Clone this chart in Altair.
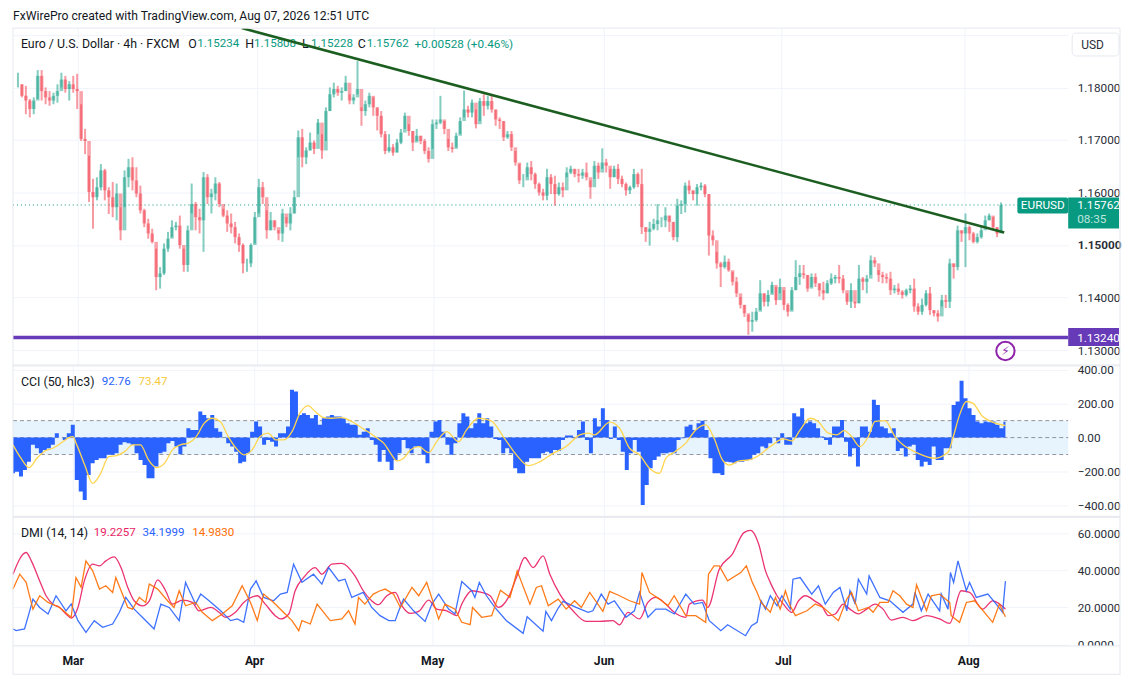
import altair as alt
import pandas as pd

# ---- candles, in pips (1/10000 of a dollar), sampled about every third 4h bar
high = [11828,11806,11803,11778,11781,11833,11833,11800,11793,11790,11806,11828,11822,11812,11822,11826,11768,11721,11670,11626,11629,11654,11645,11610,11620,11617,11572,11642,11664,11667,11648,11613,11569,11550,11531,11493,11458,11503,11525,11547,11544,11556,11493,11537,11617,11582,11569,11639,11635,11607,11629,11620,11569,11566,11560,11544,11522,11503,11474,11503,11563,11626,11620,11566,11563,11547,11528,11569,11553,11572,11604,11718,11721,11686,11714,11699,11740,11711,11762,11800,11809,11803,11800,11822,11787,11787,11850,11762,11775,11790,11781,11762,11755,
        11717,11711,11692,11702,11721,11752,11730,11717,11721,11708,11702,11686,11739,11739,11784,11736,11702,11695,11714,11743,11794,11765,11777,11758,11780,11787,11784,11784,11758,11743,11736,11717,11717,11679,11654,11635,11657,11660,11638,11619,11607,11645,11635,11632,11619,11619,11648,11651,11645,11645,11645,11657,11623,11660,11657,11684,11664,11645,11651,11654,11632,11619,11613,11645,11638,11645,11534,11544,11550,11578,11553,11572,11556,11544,11588,11585,11619,11623,11604,11616,11619,11616,11597,11528,11487,11468,11480,11474,11449,11439,11401,11386,11367,
        11373,11380,11433,11408,11414,11430,11420,11436,11414,11389,11420,11471,11462,11462,11443,11446,11446,11427,11430,11433,11446,11443,11462,11443,11408,11427,11392,11462,11439,11443,11480,11477,11452,11449,11446,11449,11424,11427,11414,11417,11424,11436,11389,11398,11414,11420,11376,11376,11405,11405,11474,11465,11537,11528,11560,11537,11525,11522,11534,11556,11560,11553,11534,11581]
low = [11800,11781,11749,11743,11749,11778,11775,11768,11765,11768,11771,11800,11790,11775,11790,11759,11698,11673,11582,11531,11585,11604,11585,11559,11553,11547,11509,11572,11610,11604,11591,11560,11534,11512,11503,11414,11417,11443,11487,11515,11528,11493,11449,11449,11560,11528,11522,11487,11578,11560,11585,11572,11553,11525,11522,11503,11487,11446,11449,11458,11503,11560,11578,11512,11528,11528,11509,11506,11534,11528,11560,11667,11648,11654,11680,11673,11711,11664,11698,11755,11781,11784,11775,11793,11768,11768,11787,11727,11746,11762,11746,11718,11705,
       11673,11676,11670,11676,11692,11721,11708,11679,11698,11692,11673,11657,11683,11721,11730,11711,11679,11676,11686,11711,11743,11743,11743,11722,11736,11746,11758,11752,11727,11721,11698,11702,11679,11651,11616,11610,11629,11623,11607,11594,11585,11585,11597,11575,11594,11591,11629,11635,11629,11619,11626,11623,11588,11626,11626,11645,11638,11607,11629,11616,11610,11594,11597,11607,11610,11521,11506,11499,11528,11528,11534,11534,11525,11509,11506,11559,11562,11597,11585,11575,11604,11591,11480,11499,11455,11420,11455,11449,11423,11401,11379,11363,11329,
       11335,11354,11376,11383,11383,11408,11386,11408,11376,11364,11376,11414,11424,11436,11411,11420,11420,11402,11395,11408,11424,11427,11427,11408,11386,11380,11380,11389,11414,11408,11443,11458,11430,11427,11427,11405,11408,11405,11398,11402,11408,11373,11367,11367,11383,11367,11364,11354,11383,11380,11380,11436,11452,11506,11458,11509,11503,11503,11512,11534,11547,11528,11515,11523]
close = [11806,11784,11775,11759,11775,11822,11793,11781,11775,11784,11793,11815,11797,11806,11797,11793,11702,11698,11601,11591,11610,11642,11604,11591,11572,11598,11528,11629,11648,11623,11598,11566,11541,11522,11506,11439,11446,11493,11512,11534,11537,11500,11462,11528,11578,11553,11547,11629,11591,11598,11617,11578,11556,11541,11534,11515,11500,11465,11465,11500,11553,11610,11591,11528,11547,11534,11522,11560,11541,11560,11591,11705,11667,11680,11695,11683,11733,11680,11755,11787,11797,11790,11793,11809,11775,11781,11797,11755,11768,11784,11762,11746,11711,
         11679,11686,11676,11695,11714,11746,11717,11695,11708,11698,11679,11664,11730,11733,11739,11721,11686,11683,11708,11736,11758,11752,11771,11730,11774,11765,11774,11758,11739,11736,11705,11711,11686,11657,11623,11623,11648,11635,11616,11600,11594,11629,11616,11597,11610,11604,11638,11645,11635,11632,11638,11629,11610,11651,11638,11657,11651,11629,11645,11626,11616,11604,11610,11635,11616,11534,11525,11531,11540,11547,11547,11556,11544,11515,11575,11578,11613,11604,11597,11610,11613,11597,11518,11509,11465,11458,11468,11452,11430,11408,11386,11370,11354,
         11357,11373,11408,11392,11405,11424,11395,11420,11386,11373,11414,11439,11446,11443,11417,11439,11427,11414,11408,11427,11436,11439,11436,11414,11392,11414,11389,11436,11430,11436,11471,11465,11443,11439,11436,11414,11417,11411,11405,11414,11417,11383,11373,11386,11408,11376,11370,11364,11395,11392,11465,11458,11528,11522,11534,11522,11506,11515,11528,11547,11556,11534,11522,11576]

# ---- CCI histogram and its moving average
cci = [-211,-201,-230,-191,-142,-43,-63,-93,-73,-63,-43,26,0,-14,26,75,-250,-319,-368,-221,-152,-132,-122,-122,-102,-102,-93,-43,-28,-33,-43,-93,-132,-162,-240,-240,-171,-93,-83,-33,-20,-53,-99,-53,55,45,45,154,134,114,134,55,35,0,-33,-53,-83,-152,-142,-93,35,95,65,-43,-14,-24,-53,26,26,65,282,272,134,144,134,114,134,75,114,124,134,124,124,114,85,75,75,16,35,55,-14,-43,-142,
       -73,-142,-191,-132,-93,-14,-63,-93,-53,-53,-102,-152,35,95,104,35,-43,-102,-33,85,144,124,55,85,144,85,114,65,-8,-14,-93,-63,-93,-181,-211,-211,-142,-122,-122,-122,-93,-83,-93,-73,-79,-14,12,12,-4,45,95,-14,-93,114,65,173,104,-8,65,-14,-83,-191,-93,-14,-83,-398,-280,-181,-132,-112,-93,-93,-87,-93,-14,-4,65,75,45,85,99,45,-122,-211,-211,-221,-142,-146,-152,-142,-142,-136,-132,
       -102,-93,-53,-63,-33,0,-33,26,-43,-43,144,124,173,85,95,85,55,6,-14,-43,65,65,104,-24,-112,-63,-171,65,65,35,223,193,65,55,26,55,-79,-63,-112,-53,-43,-132,-171,-142,-162,-53,-132,-132,-63,-63,193,213,335,232,173,134,95,85,95,91,95,75,55,93]
ma_bar = [0,2,4,6,8,10,12,14,15,16,18,20,22,24,26,28,30,32,34,36,38,40,42,44,46,48,50,52,54,56,58,60,62,64,66,68,70,72,74,76,78,80,82.5,85,87,89,92,
          93,95,96.3,98,99.7,101.8,104.3,106.3,108.8,111.8,113.8,116.8,120,123,126.3,129.3,132.2,135.5,138.8,142.2,144.3,145.9,149.7,152.2,154.7,157.2,159.7,162.2,163.8,165.9,168.8,171.3,173.8,175.9,178,179.7,182.2,184.7,
          186.7,190,193.3,195.4,197.5,200,202,204.6,206.7,208.5,210.4,212.5,214.6,216.3,218.8,221.3,223.3,225.4,227.1,231.3,234.6,235.8,237.5,239.2,240.8,243.3,245.8,249]
ma_val = [-43,-122,-177,-122,-79,-63,-33,0,6,-43,-162,-270,-211,-112,-106,-83,-43,-43,-132,-177,-152,-73,-43,-33,6,85,114,95,6,-63,-102,-73,6,26,-14,-14,35,144,189,150,118,114,118,95,65,35,-14,
          -33,-102,-138,-122,-73,-53,-89,-24,35,-24,45,114,99,6,-102,-165,-142,-93,-53,16,26,16,91,55,-63,-102,-181,-211,-122,-87,-33,45,75,-4,-132,-162,-138,-132,
          -112,-53,-8,-20,45,114,95,26,16,41,6,-53,6,95,100,6,-43,-73,-93,-122,-87,-4,134,213,203,124,91,71]

# ---- DMI lines
pink_bar = [0,3.3,4.6,6.7,8.3,10,11.7,13.3,14.6,16.3,17.9,20,21.7,23.3,25.4,27.1,28.8,30.4,32.5,34.2,36.3,38.3,40,42.5,45,46.7,49.6,51.7,53.3,55.8,57.9,61.3,63.3,65.8,67.1,69.2,70.8,72.9,75.8,77.5,80,82.5,85.8,87.9,90,91.7,
            93.8,95.9,97.6,99.7,101.8,104.3,106.3,108.8,111.3,112.6,115.1,117.6,119.7,121.8,124.3,126.3,128.4,130.5,133,134.7,137.2,140.5,143.8,147.2,150.5,152.2,154.3,157.2,159.3,161.3,163.8,165.9,168.8,169.7,173,174.3,177.2,180.5,183.4,185.1,
            185.8,187.1,188.8,190,191.7,193.3,195.4,197.1,198.8,201.3,202.9,204.6,206.3,208.3,210,212.1,214.2,216.3,218.3,220.4,223.3,225.8,229.2,232.5,235,237.9,240,243.3,245.8,249]
pink_val = [37.9,49.6,45.1,34.3,26.3,21.8,20.0,16.5,14.3,20.0,34.3,43.3,42.4,45.1,47.2,41.5,30.8,23.6,20.9,23.6,34.9,29.0,21.8,24.0,22.7,18.2,20.0,17.4,14.7,17.4,22.7,26.3,21.8,15.6,13.8,16.5,29.0,36.1,41.5,37.9,43.3,43.7,37.0,29.0,23.6,21.5,
            26.3,28.1,20.9,16.8,17.9,24.0,19.1,18.2,15.6,21.8,29.0,28.1,26.3,20.0,25.4,36.1,46.9,41.5,47.8,37.9,27.2,18.2,12.5,12.5,12.9,10.7,17.4,13.8,22.7,25.4,21.8,17.4,14.7,21.8,24.0,20.0,40.6,48.7,60.3,61.5,
            60.3,54.0,39.7,33.5,26.3,21.8,17.4,23.6,26.3,23.3,20.9,15.6,16.5,21.8,19.1,16.5,19.1,21.8,19.1,13.2,14.7,12.9,15.6,13.8,11.4,29.0,28.1,19.1,23.6,19.2]
blue_bar = [0,0.8,2.9,4.2,5,6.7,8.8,10.8,13.3,14.6,16.3,18.3,20.4,22.5,25,26.7,28.3,30.4,32.9,35.4,37.1,39.2,41.7,43.3,45.8,47.1,49.2,52.1,54.6,56.3,57.9,59.6,61,62.9,65.4,67.1,68.8,70.4,72.5,75.4,77.5,79.2,81.7,83.3,85,87.9,90,92.1,
            94.3,95.9,96.8,98,100.5,103.4,105.1,106.8,109.3,110.9,112.6,115.1,115.9,117,118.8,120.9,123.8,128,129,133,133.7,135.1,136.8,138,141.3,144.3,145.5,147.6,149.3,150.9,153.8,155.9,157.2,159.3,161.3,163.8,165.9,168.8,170.9,173,174.7,177.6,179.3,183.8,185.3,
            186.7,187.7,188.8,190,191.7,192.9,195,195.7,197.5,200.4,202.1,203.8,205.8,207.5,209.2,210,211.3,212.1,214.2,214.8,217.5,220,223.3,225.8,226.3,227.9,229.6,232.5,232.9,234.6,235.2,236,237.1,239.2,240,241.7,244.6,246.7,248.3,249]
blue_val = [8.4,7.5,8.4,18.2,24.5,20.0,16.5,26.3,18.2,21.8,12.9,6.6,12.9,9.3,11.1,17.4,25.4,19.1,13.8,8.4,21.8,20.0,12.9,33.5,21.8,27.2,23.6,18.2,12.9,13.8,12.0,29.9,34.3,25.4,23.6,27.2,28.1,43.3,33.5,37.9,32.6,41.5,34.3,35.2,25.4,28.1,20.0,15.6,
            12.9,12.9,18.2,24.5,18.2,12.5,21.8,27.2,19.1,16.5,34.0,29.0,25.4,33.5,26.3,20.0,12.9,6.1,15.0,7.2,17.9,12.9,19.7,23.3,20.0,17.4,18.2,27.2,21.8,23.6,14.7,18.2,28.1,14.7,19.1,19.1,16.5,27.2,21.8,22.7,12.9,7.5,10.7,4.8,10.2,
            12.0,23.6,19.1,26.3,20.9,26.3,19.1,35.2,36.1,27.2,31.7,21.8,28.1,30.8,18.2,29.0,21.8,35.2,27.2,37.0,25.4,23.6,17.4,21.8,28.1,18.2,27.2,18.2,27.2,19.1,38.8,33.5,45.1,29.0,33.5,25.4,27.2,21.8,17.4,34.2]
orange_bar = [0,1.7,3.3,5,6.7,8.8,11.7,14.6,15.8,17.1,18.3,20,21.7,23.3,25,25.8,28.8,30,31.7,33.3,34.2,36.3,38.8,40.4,41.7,43.3,45.8,47.5,50,52.5,55,57.5,59.6,61.3,62.9,65.4,68.3,70,71.7,72.5,74.6,76.3,79.6,82.5,84.2,85.8,86.7,88.3,90.4,92.1,
              93.4,95.5,97.2,100.1,101.8,103.8,106.8,108.4,110.9,112.6,114.7,115.3,117.6,120.1,122.3,124.7,126.5,129.7,131.3,132.6,134.3,136.8,138.8,140.9,142.6,144.7,148,149.7,152.2,154.7,157.2,157.8,159.7,162.2,164.3,165.9,168.8,171.3,173.8,174.5,175.9,177.2,179.3,182.6,184,185.5,
              186.7,187.7,190,191.3,192.5,193.8,195,196.3,199.2,201.3,203.3,207.1,209.2,210.4,212.1,214.6,215.8,217.5,219.6,220.8,222.5,224.2,225.8,226.7,229.2,230.4,232.5,235,235.4,237.5,239.2,241.3,245.8,247.5,249]
orange_val = [29.9,37.9,33.5,19.1,26.3,22.7,20.0,14.7,36.1,30.8,45.1,39.7,29.9,31.7,28.1,36.1,20.0,19.1,25.4,22.7,32.6,29.9,23.6,20.0,29.0,20.9,22.7,17.4,12.9,16.5,20.9,31.7,22.7,12.9,27.2,22.7,16.5,12.9,7.5,12.9,11.1,21.8,12.9,13.8,18.2,11.1,25.4,21.8,27.2,29.0,
              29.9,27.2,20.0,30.8,26.3,33.5,13.8,21.8,19.1,12.0,10.7,20.0,14.7,15.6,29.3,25.4,39.7,21.8,30.8,31.7,20.9,24.5,19.1,23.6,20.0,28.1,17.9,28.6,26.3,23.6,21.8,38.8,28.1,24.5,20.9,26.3,15.6,15.6,12.0,37.9,42.4,42.4,34.3,38.8,42.4,33.5,
              28.1,22.7,17.4,25.4,19.1,29.0,20.9,15.6,18.2,21.8,20.0,12.9,24.5,28.1,18.2,20.0,17.4,22.7,22.7,29.0,26.3,21.8,20.0,32.2,18.2,26.3,27.2,22.7,15.6,12.0,22.7,23.6,12.0,21.8,15.0]

# ---- axis and annotation values
month_names = ["Mar", "Apr", "May", "Jun", "Jul", "Aug"]
month_bars = [15.1, 60.6, 105.3, 148.3, 193.3, 239.8]
price_ticks = [1.13, 1.14, 1.15, 1.16, 1.17, 1.18, 1.19]
cci_ticks = [-400, -200, 0, 200, 400]
dmi_ticks = [0, 20, 40, 60]
trend_bar = [56.7, 249.8]
trend_price = [1.1913, 1.1524]
last_price = 1.15762
support = 1.1324

FONT = "Roboto"
TXT = "#131722"
GRID = "#f0f3fa"
EDGE = "#e6e8ef"
UP, DOWN = "#089981", "#f23645"
W = 1059
T_W = 1111
DOM = [0, W / 4]


def x_enc(field="bar"):
    return alt.X(f"{field}:Q", scale=alt.Scale(domain=DOM),
                 axis=alt.Axis(values=month_bars, grid=True, gridColor=GRID, labels=False,
                               ticks=False, domain=False, title=None))


def y_axis(ticks, fmt, **kw):
    return alt.Axis(orient="right", values=ticks, format=fmt, grid=True, gridColor=GRID, ticks=False,
                    domain=False, title=None, labelFont=FONT, labelFontSize=11.8, labelColor="#2a2e39",
                    labelPadding=9, labelFlush=False, labelOverlap=False, **kw)


def note(text, x, y, color=TXT, size=12.4, align="left", weight="normal", font=FONT):
    return alt.Chart(pd.DataFrame({"t": [text]})).mark_text(
        align=align, baseline="middle", font=font, fontSize=size, color=color, fontWeight=weight
    ).encode(x=alt.value(x), y=alt.value(y), text="t:N")


def box(x, x2, y, y2, fill, stroke=None, radius=0):
    opts = dict(fill=fill, cornerRadius=radius)
    if stroke:
        opts["stroke"] = stroke
    return alt.Chart(pd.DataFrame({"a": [0]})).mark_rect(**opts).encode(
        x=alt.value(x), x2=alt.value(x2), y=alt.value(y), y2=alt.value(y2))


def rule_h(y, x=0, x2=T_W, color=EDGE, width=1):
    return alt.Chart(pd.DataFrame({"a": [0]})).mark_rule(color=color, strokeWidth=width).encode(
        x=alt.value(x), x2=alt.value(x2), y=alt.value(y))


def rule_v(x, y, y2, color=EDGE):
    return alt.Chart(pd.DataFrame({"a": [0]})).mark_rule(color=color, strokeWidth=1).encode(
        x=alt.value(x), y=alt.value(y), y2=alt.value(y2))


# ---------- price panel
n = min(len(high), len(low), len(close))
opens = [close[0]] + close[:-1]
candles = pd.DataFrame({
    "bar": list(range(n)),
    "high": [v / 10000 for v in high[:n]],
    "low": [v / 10000 for v in low[:n]],
    "open": [v / 10000 for v in opens[:n]],
    "close": [v / 10000 for v in close[:n]],
})
candles["dir"] = ["up" if c >= o else "down" for o, c in zip(candles["open"], candles["close"])]
P_H = 339
p_scale = alt.Scale(domain=[1.12698, 1.19129])
p_axis = y_axis(price_ticks, ".5f",
                labelExpr="datum.value > 1.185 ? '' : datum.label",
                labelFontWeight={"condition": {"test": "abs(datum.value-1.15)<0.0001", "value": "bold"},
                                 "value": "normal"})
cscale = alt.Scale(domain=["up", "down"], range=[UP, DOWN])

wicks = alt.Chart(candles).mark_rule(strokeWidth=2, opacity=0.5).encode(
    x=x_enc(),
    y=alt.Y("low:Q", scale=p_scale, axis=p_axis), y2="high:Q",
    color=alt.Color("dir:N", scale=cscale, legend=None))
bodies = alt.Chart(candles).mark_bar(size=3.6, opacity=0.45).encode(
    x=x_enc(),
    y=alt.Y("open:Q", scale=p_scale, axis=p_axis), y2="close:Q",
    color=alt.Color("dir:N", scale=cscale, legend=None))
last_line = alt.Chart(pd.DataFrame({"p": [last_price]})).mark_rule(
    color=UP, strokeDash=[1, 3], strokeWidth=1).encode(
    y=alt.Y("p:Q", scale=p_scale, axis=p_axis), x=alt.value(0), x2=alt.value(W))
sup_line = alt.Chart(pd.DataFrame({"p": [support]})).mark_rule(
    color="#673ab7", strokeWidth=3.4).encode(
    y=alt.Y("p:Q", scale=p_scale, axis=p_axis), x=alt.value(0), x2=alt.value(W))
trend = alt.Chart(pd.DataFrame({"bar": trend_bar, "p": trend_price})).mark_line(
    color="#1b5e20", strokeWidth=2.6, clip=True).encode(
    x=x_enc(), y=alt.Y("p:Q", scale=p_scale, axis=p_axis))
bolt_ring = alt.Chart(pd.DataFrame({"a": [0]})).mark_point(
    shape="circle", filled=False, stroke="#8e24aa", strokeWidth=2, size=340, opacity=1).encode(
    x=alt.value(996), y=alt.value(324))

price = alt.layer(
    last_line, wicks, bodies, sup_line,
    note("FxWirePro created with TradingView.com, Aug 07, 2026 12:51 UTC", 0, -12, size=12.2),
    note("Euro / U.S. Dollar · 4h · FXCM", 8, 16),
    note("O", 176, 16), note("1.15234", 185, 16, UP, 11.6),
    note("H", 233, 16), note("1.15808", 242, 16, UP, 11.6),
    note("L", 290, 16), note("1.15228", 299, 16, UP, 11.6),
    note("C", 346, 16), note("1.15762", 355, 16, UP, 11.6),
    note("+0.00528 (+0.46%)", 403, 16, UP, 11.8),
    trend,
    rule_h(0), rule_h(P_H - 1), rule_h(P_H), rule_v(0, 0, P_H), rule_v(T_W, 0, P_H),
    box(1063, T_W - 1, 5, 28, "white", EDGE, 4), note("USD", 1072, 16.5, "#2a2e39", 12),
    box(1008, 1059, 170, 186, UP, None, 2), note("EURUSD", 1033.5, 178, "white", 11.8, "center"),
    box(1059, T_W - 1, 170, 201, UP),
    note(f"{last_price:.5f}", 1068, 178, "white", 11.8), note("08:35", 1068, 192, "#bfe6dd", 11.8),
    box(1059, T_W - 1, 301, 319, "#673ab7"), note(f"{support:.5f}", 1068, 310.5, "white", 11.8),
    bolt_ring, note("⚡\ufe0e", 996, 324, "#8e24aa", 12, "center", font="DejaVu Sans"),
).properties(width=W, height=P_H)

# ---------- CCI panel
C_H = 152
c_scale = alt.Scale(domain=[-471, 423])
c_axis = y_axis(cci_ticks, ".2f")
cci_df = pd.DataFrame({"bar": list(range(len(cci))), "v": cci})
ma_df = pd.DataFrame({"bar": ma_bar[:len(ma_val)], "v": ma_val[:len(ma_bar)]})
band = alt.Chart(pd.DataFrame({"a": [100], "b": [-100]})).mark_rect(fill="#e3f2fd", opacity=0.85).encode(
    y=alt.Y("a:Q", scale=c_scale, axis=c_axis), y2="b:Q", x=alt.value(0), x2=alt.value(W))
hlines = alt.Chart(pd.DataFrame({"v": [100, 0, -100]})).mark_rule(
    color="#787b86", strokeDash=[4, 3], strokeWidth=1, opacity=0.8).encode(
    y=alt.Y("v:Q", scale=c_scale, axis=c_axis), x=alt.value(0), x2=alt.value(W))
hist = alt.Chart(cci_df).mark_area(color="#2962ff", interpolate="step", opacity=1).encode(
    x=x_enc(), y=alt.Y("v:Q", scale=c_scale, axis=c_axis), y2=alt.Y2(datum=0))
ma_line = alt.Chart(ma_df).mark_line(color="#ffd54f", strokeWidth=1.3, interpolate="monotone").encode(
    x=x_enc(), y=alt.Y("v:Q", scale=c_scale, axis=c_axis))
cci_panel = alt.layer(
    band, hlines, hist, ma_line,
    note("CCI (50, hlc3)", 8, 16), note("92.76", 89, 16, "#2962ff", 11.6), note("73.47", 126, 16, "#f6c93c", 11.6),
    rule_h(C_H - 1), rule_h(C_H), rule_v(0, 0, C_H), rule_v(T_W, 0, C_H),
).properties(width=W, height=C_H)

# ---------- DMI panel
D_H = 129
d_scale = alt.Scale(domain=[-0.7, 68.5])
d_axis = y_axis(dmi_ticks, ".4f")


def dmi_line(bars, vals, color, smooth=False):
    m = min(len(bars), len(vals))
    opts = dict(interpolate="monotone") if smooth else {}
    return alt.Chart(pd.DataFrame({"bar": bars[:m], "v": vals[:m]})).mark_line(
        color=color, strokeWidth=1.3, opacity=0.9, **opts).encode(
        x=x_enc(), y=alt.Y("v:Q", scale=d_scale, axis=d_axis))


dmi_panel = alt.layer(
    dmi_line(pink_bar, pink_val, "#e91e63", True),
    dmi_line(blue_bar, blue_val, "#2962ff"),
    dmi_line(orange_bar, orange_val, "#ff6d00"),
    note("DMI (14, 14)", 8, 16), note("19.2257", 81, 16, "#e91e63", 11.6),
    note("34.1999", 130, 16, "#2962ff", 11.6), note("14.9830", 180, 16, "#ff6d00", 11.6),
    rule_v(0, 0, D_H), rule_v(T_W, 0, D_H),
).properties(width=W, height=D_H)

# ---------- time strip
months = pd.DataFrame({"bar": month_bars, "m": month_names})
time_strip = alt.layer(
    alt.Chart(months).mark_text(font=FONT, fontSize=12.2, color=TXT, fontWeight="bold", baseline="middle").encode(
        x=alt.X("bar:Q", scale=alt.Scale(domain=[0, T_W / 4]), axis=None),
        y=alt.value(15), text="m:N"),
    rule_h(0), rule_h(28.5), rule_v(0, 0, 29), rule_v(T_W, 0, 29),
).properties(width=T_W, height=29, view=alt.ViewBackground(fill="white", stroke=None))

chart = alt.vconcat(price, cci_panel, dmi_panel, time_strip, spacing=0, bounds="flush").properties(
    padding={"left": 2, "top": 1, "right": 0, "bottom": 0}
).configure_view(stroke=None).resolve_scale(x="independent", y="independent")

chart.save("out.html", embed_options={"renderer": "svg", "actions": False})
